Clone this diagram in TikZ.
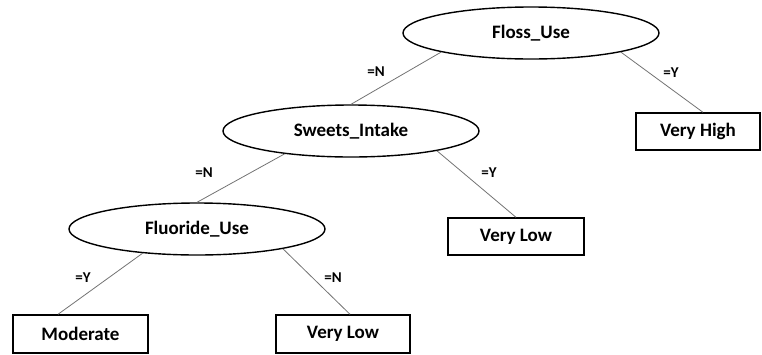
\documentclass[tikz,border=0pt]{standalone}
\usepackage{fontspec}
\setmainfont{Carlito}
\usetikzlibrary{shapes.geometric}
\begin{document}
\begin{tikzpicture}[x=1pt,y=-1pt,
  test/.style={ellipse,draw=black,line width=1.4pt,minimum width=256pt,minimum height=52pt,inner sep=0pt,font=\fontsize{19}{22}\selectfont\bfseries},
  leaf/.style={rectangle,draw=black,line width=1.4pt,minimum height=37pt,inner sep=0pt,font=\fontsize{19}{22}\selectfont\bfseries},
  branch/.style={draw=black!55,line width=0.8pt},
  cond/.style={inner sep=0pt,font=\fontsize{15}{17}\selectfont\bfseries}]
\useasboundingbox (0,0) rectangle (762,354);
% decision nodes
\node[test] (floss) at (531,33) {Floss\_Use};
\node[test] (sweets) at (351,131) {Sweets\_Intake};
\node[test] (fluor) at (197,229) {Fluoride\_Use};
% outcomes
\node[leaf,minimum width=124pt] (vhigh) at (698,131.5) {Very High};
\node[leaf,minimum width=136pt] (vlow1) at (516,236.5) {Very Low};
\node[leaf,minimum width=135pt,minimum height=38pt] (moder) at (80.5,334) {Moderate};
\node[leaf,minimum width=134pt,minimum height=38pt] (vlow2) at (343,334) {Very Low};
% branches
\draw[branch] (floss.192) -- (sweets.north);
\draw[branch] (floss.348) -- ([xshift=5pt]vhigh.north);
\draw[branch] (sweets.199) -- (fluor.north);
\draw[branch] (sweets.347) -- (vlow1.north);
\draw[branch] (fluor.204) -- ([xshift=-22.5pt]moder.north);
\draw[branch] (fluor.347) -- ([xshift=7pt]vlow2.north);
% branch conditions
\node[cond] (c1) at (376,72) {=N};
\node[cond] (c2) at (671,73) {=Y};
\node[cond] (c3) at (204,173) {=N};
\node[cond] (c4) at (489,173) {=Y};
\node[cond] (c5) at (83,278) {=Y};
\node[cond] (c6) at (333,278) {=N};
\end{tikzpicture}
\end{document}
